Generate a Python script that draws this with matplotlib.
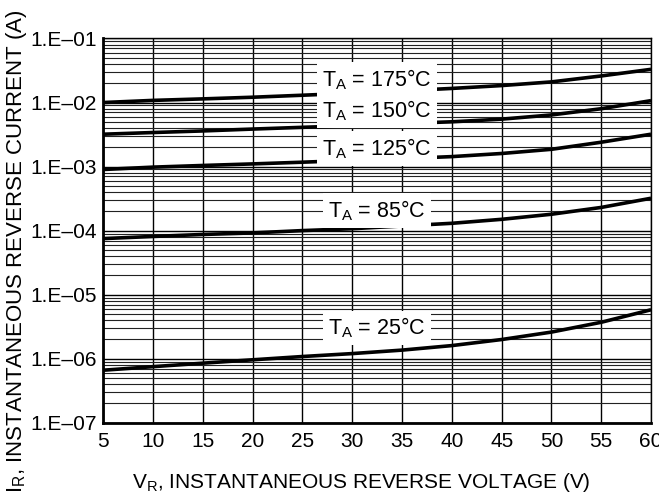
import math
import matplotlib
matplotlib.use("Agg")
import matplotlib.pyplot as plt
from matplotlib.ticker import LogLocator, FixedLocator, FuncFormatter, NullFormatter

plt.rcParams["font.family"] = ["Liberation Sans", "DejaVu Sans"]
plt.rcParams["mathtext.fontset"] = "custom"
plt.rcParams["mathtext.rm"] = "Liberation Sans"
plt.rcParams["mathtext.it"] = "Liberation Sans:italic"

# ---------------------------------------------------------------------------
# Datos (corriente inversa vs. voltaje inverso)
# ---------------------------------------------------------------------------
voltaje = [5, 10, 15, 20, 25, 30, 35, 40, 45, 50, 55, 60]

i_175 = [1.0e-2, 1.08e-2, 1.14e-2, 1.21e-2, 1.30e-2, 1.40e-2,
         1.52e-2, 1.66e-2, 1.84e-2, 2.10e-2, 2.60e-2, 3.30e-2]
i_150 = [3.2e-3, 3.4e-3, 3.6e-3, 3.85e-3, 4.1e-3, 4.35e-3,
         4.7e-3, 5.0e-3, 5.5e-3, 6.4e-3, 8.0e-3, 1.07e-2]
i_125 = [9.0e-4, 9.8e-4, 1.04e-3, 1.1e-3, 1.17e-3, 1.25e-3,
         1.33e-3, 1.43e-3, 1.6e-3, 1.86e-3, 2.4e-3, 3.2e-3]
i_85 = [7.5e-5, 8.1e-5, 8.7e-5, 9.2e-5, 1.0e-4, 1.07e-4,
        1.18e-4, 1.3e-4, 1.5e-4, 1.8e-4, 2.3e-4, 3.2e-4]
i_25 = [6.6e-7, 7.5e-7, 8.5e-7, 9.6e-7, 1.08e-6, 1.2e-6,
        1.36e-6, 1.6e-6, 1.99e-6, 2.6e-6, 3.7e-6, 5.8e-6]

curvas = [i_175, i_150, i_125, i_85, i_25]
etiquetas = ["175°C", "150°C", "125°C", "85°C", "25°C"]
pos_etiqueta = [2.3e-2, 7.4e-3, 1.9e-3, 2.05e-4, 3.0e-6]
v_etiqueta = 32.5

xticks = [5, 10, 15, 20, 25, 30, 35, 40, 45, 50, 55, 60]

# ---------------------------------------------------------------------------
# Gráfica
# ---------------------------------------------------------------------------
fig = plt.figure(figsize=(6.59, 4.96), dpi=100)
ax = fig.add_axes([0.1568, 0.1478, 0.8311, 0.7746])

ax.set_yscale("log")
ax.set_xlim(5, 60)
ax.set_ylim(1e-7, 1e-1)

ax.xaxis.set_major_locator(FixedLocator(xticks))
ax.yaxis.set_major_locator(LogLocator(base=10, numticks=10))
ax.yaxis.set_minor_locator(LogLocator(base=10, subs=range(2, 10), numticks=20))
ax.yaxis.set_minor_formatter(NullFormatter())
ax.yaxis.set_major_formatter(
    FuncFormatter(lambda v, p: f"1.E\u2013{abs(round(math.log10(v))):02d}"))

ax.tick_params(which="both", length=0, labelsize=15)
ax.tick_params(axis="x", pad=7)
ax.tick_params(axis="y", pad=5)

ax.grid(which="major", color="black", linewidth=1.0)
ax.grid(which="minor", axis="y", color="#222222", linewidth=0.8)
ax.set_axisbelow(True)

for sp in ["left", "bottom"]:
    ax.spines[sp].set_linewidth(2.0)
for sp in ["top", "right"]:
    ax.spines[sp].set_linewidth(1.0)

for datos in curvas:
    ax.plot(voltaje, datos, color="black", linewidth=2.6,
            solid_capstyle="butt", zorder=3)

for texto, y in zip(etiquetas, pos_etiqueta):
    ax.text(v_etiqueta, y, r"T$_\mathrm{A}$ = " + texto, ha="center",
            va="center", fontsize=15.5, zorder=4,
            bbox=dict(facecolor="white", edgecolor="none", pad=3.5))

ax.set_xlabel(r"V$_\mathrm{R}$, INSTANTANEOUS REVERSE VOLTAGE (V)", fontsize=15)
ax.set_ylabel(r"I$_\mathrm{R}$, INSTANTANEOUS REVERSE CURRENT (A)", fontsize=16)
ax.xaxis.set_label_coords(0.471, -0.125)
ax.yaxis.set_label_coords(-0.135, 0.447)

fig.text(287 / 659, 0.994, "Characteristics", ha="center", va="bottom",
         fontsize=14, fontweight="bold")

plt.savefig("out.png", dpi=100)
plt.close()
